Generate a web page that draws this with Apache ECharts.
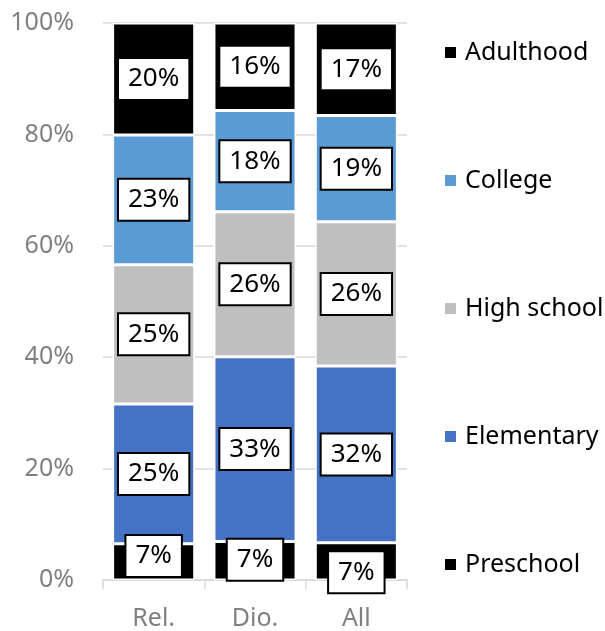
<!DOCTYPE html>
<html>
<head>
<meta charset="utf-8">
<script src="https://cdn.jsdelivr.net/npm/echarts@6/dist/echarts.min.js"></script>
<style>
  html, body { margin: 0; padding: 0; background: #fff; }
  #chart { width: 605px; height: 631px; }
</style>
</head>
<body>
<div id="chart"></div>
<script>
  // data (percent of each group)
  var categories = ['Rel.', 'Dio.', 'All'];
  var preschool  = [6.5, 6.9, 6.7];
  var elementary = [25.1, 33.2, 31.7];
  var highSchool = [25.0, 26.0, 25.9];
  var college    = [23.3, 18.2, 19.1];
  var adulthood  = [20.1, 15.7, 16.6];
  var yTicks = [0, 20, 40, 60, 80, 100];

  // small nudges of the preschool labels, like in the original
  var preschoolLabelShift = [-6, -1, 11];

  var font = '"Noto Sans", "Open Sans", sans-serif';

  var labelStyle = {
    show: true,
    position: 'inside',
    formatter: function (p) { return Math.round(p.value) + '%'; },
    color: '#000',
    fontFamily: font,
    fontSize: 26,
    lineHeight: 28,
    backgroundColor: '#fff',
    borderColor: '#000',
    borderWidth: 2,
    padding: [7, 9, 5, 9]
  };

  function makeSeries(name, values, color, shifts) {
    return {
      name: name,
      type: 'bar',
      stack: 'total',
      barCategoryGap: '19%',
      data: values.map(function (v, i) {
        var item = { value: v };
        if (shifts) item.label = { offset: [0, shifts[i]] };
        return item;
      }),
      itemStyle: { color: color, borderColor: '#fff', borderWidth: 1.5 },
      label: labelStyle
    };
  }

  var chart = echarts.init(document.getElementById('chart'));
  var option = {
    animation: false,
    grid: { left: 103, right: 198, top: 23, bottom: 51 },
    legend: {
      orient: 'vertical',
      left: 438,
      top: 33,
      icon: 'rect',
      itemWidth: 13,
      itemHeight: 13,
      itemGap: 99,
      data: ['Adulthood', 'College', 'High school', 'Elementary', 'Preschool'],
      textStyle: { color: '#000', fontFamily: font, fontSize: 25, lineHeight: 29, padding: [0, 0, 0, 3] }
    },
    xAxis: {
      type: 'category',
      data: categories,
      axisLine: { lineStyle: { color: '#d9d9d9', width: 1.5 } },
      axisTick: { show: true, length: 9, lineStyle: { color: '#d9d9d9', width: 1.5 } },
      axisLabel: { color: '#808080', fontFamily: font, fontSize: 25, margin: 26 }
    },
    yAxis: {
      type: 'value',
      min: yTicks[0],
      max: yTicks[yTicks.length - 1],
      interval: yTicks[1] - yTicks[0],
      axisLine: { show: false },
      axisTick: { show: false },
      splitLine: { lineStyle: { color: '#d9d9d9', width: 1.5 } },
      axisLabel: { color: '#808080', fontFamily: font, fontSize: 25, margin: 29, formatter: '{value}%' }
    },
    series: [
      makeSeries('Preschool', preschool, '#000000', preschoolLabelShift),
      makeSeries('Elementary', elementary, '#4472C4'),
      makeSeries('High school', highSchool, '#BFBFBF'),
      makeSeries('College', college, '#5B9BD5'),
      makeSeries('Adulthood', adulthood, '#000000')
    ]
  };
  chart.setOption(option);
</script>
</body>
</html>
